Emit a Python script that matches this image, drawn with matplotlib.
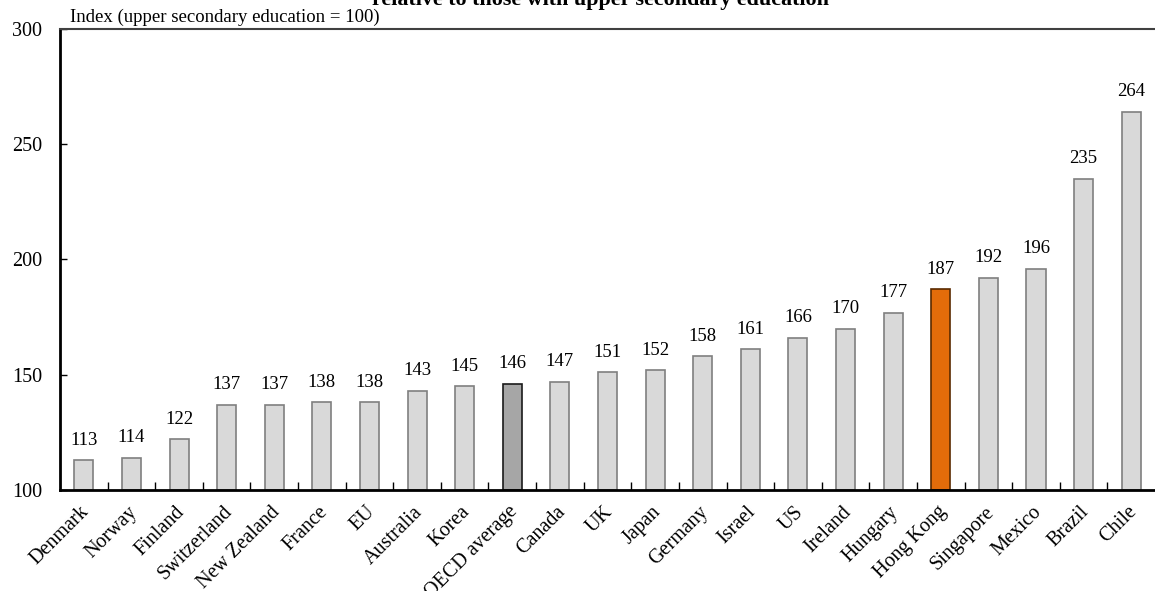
import matplotlib
matplotlib.use("Agg")
import matplotlib.pyplot as plt
import matplotlib.transforms as mtransforms
import numpy as np

countries = ["Denmark", "Norway", "Finland", "Switzerland", "New Zealand", "France",
             "EU", "Australia", "Korea", "OECD average", "Canada", "UK", "Japan",
             "Germany", "Israel", "US", "Ireland", "Hungary", "Hong Kong",
             "Singapore", "Mexico", "Brazil", "Chile"]
values = [113, 114, 122, 137, 137, 138, 138, 143, 145, 146, 147, 151, 152,
          158, 161, 166, 170, 177, 187, 192, 196, 235, 264]
y_ticks = [100, 150, 200, 250, 300]

plt.rcParams["font.family"] = ["Liberation Serif", "DejaVu Serif"]

fig = plt.figure(figsize=(11.55, 5.91), dpi=100)
ax = fig.add_axes([60 / 1155, 1 - 490 / 591, 1 - 60 / 1155, (490 - 29) / 591])

x = np.arange(len(countries))
face = []
edge = []
for c in countries:
    if c == "Hong Kong":
        face.append("#e36c0a"); edge.append("#5a2a00")
    elif c == "OECD average":
        face.append("#a6a6a6"); edge.append("#1a1a1a")
    else:
        face.append("#d9d9d9"); edge.append("#7f7f7f")

ax.bar(x, np.array(values) - 100, bottom=100, width=0.4,
       color=face, edgecolor=edge, linewidth=1.2, zorder=2)
for xi, v in zip(x, values):
    ax.text(xi, v + 5, str(v), ha="center", va="bottom", fontsize=13.5)

ax.set_xlim(-0.5, len(countries) - 0.5)
ax.set_ylim(100, 300)
ax.set_yticks(y_ticks)
ax.set_yticklabels([str(t) for t in y_ticks], fontsize=14.5)
ax.tick_params(axis="y", direction="in", length=5, width=1, pad=13)

ax.set_xticks(x)
ax.set_xticklabels(countries, rotation=45, ha="right", rotation_mode="anchor",
                   fontsize=14.5)
ax.tick_params(axis="x", which="major", length=0, pad=9)
shift = mtransforms.ScaledTranslation(-4 / 100, 0, fig.dpi_scale_trans)
for lbl in ax.get_xticklabels():
    lbl.set_transform(lbl.get_transform() + shift)
ax.set_xticks(x[:-1] + 0.5, minor=True)
ax.tick_params(axis="x", which="minor", direction="in", length=6, width=1)

for side in ["left", "bottom"]:
    ax.spines[side].set_linewidth(2)
    ax.spines[side].set_color("black")
ax.spines["top"].set_linewidth(1.5)
ax.spines["top"].set_color("#404040")
ax.spines["right"].set_visible(False)

ax.text(10 / 1095, 1.006, "Index (upper secondary education = 100)", transform=ax.transAxes,
        ha="left", va="bottom", fontsize=13.5)
fig.text(600 / 1155, 1 - 5 / 591, "relative to those with upper secondary education",
         ha="center", va="baseline", fontsize=15.8, fontweight="bold")

fig.savefig("out.png", dpi=100)
